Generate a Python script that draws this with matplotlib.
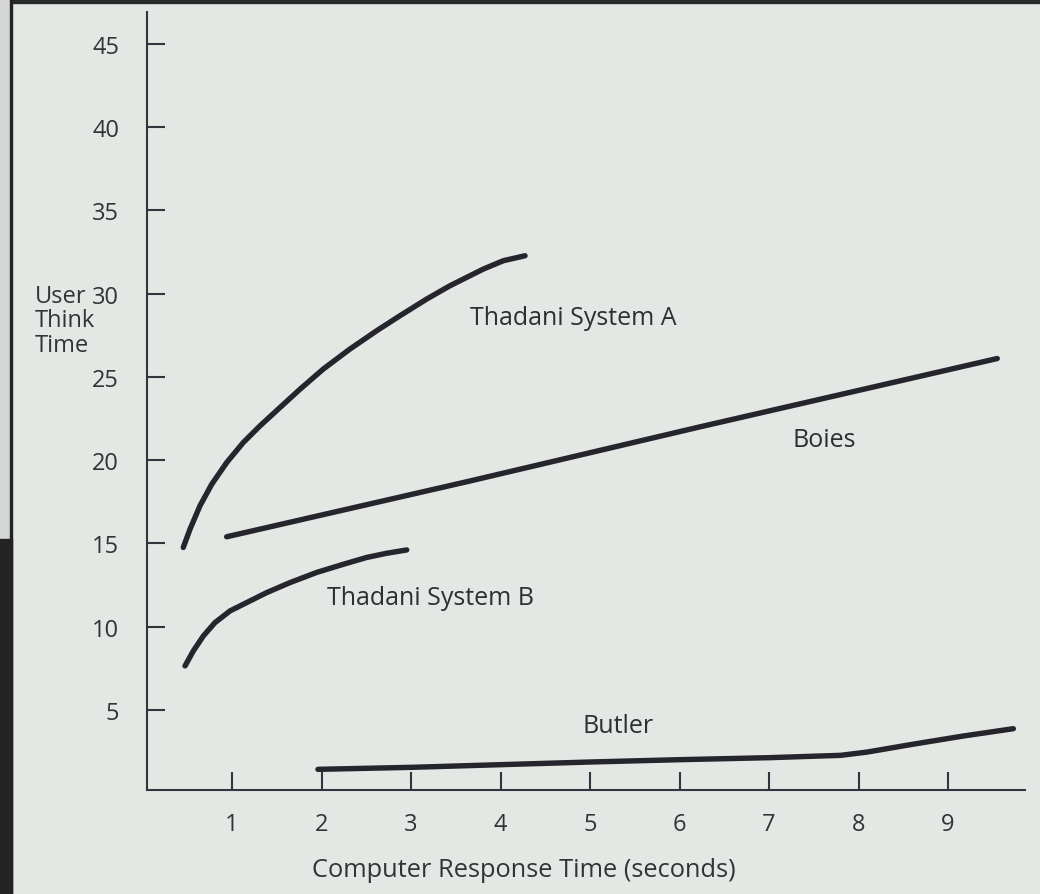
# Think time vs computer response time (book figure, redrawn)
import matplotlib
matplotlib.use('Agg')
import matplotlib.pyplot as plt
from matplotlib.patches import Rectangle

plt.rcParams['font.family'] = ['Open Sans', 'DejaVu Sans']

# curves (x = response time in s, y = user think time)
thadani_a_x = [0.455, 0.531, 0.642, 0.774, 0.941, 1.126, 1.313, 1.536, 1.760, 2.020,
               2.318, 2.617, 2.877, 3.175, 3.436, 3.659, 3.808, 4.031, 4.274]
thadani_a_y = [14.76, 15.86, 17.26, 18.56, 19.86, 21.06, 22.06, 23.16, 24.26, 25.47,
               26.67, 27.77, 28.67, 29.67, 30.47, 31.07, 31.47, 31.97, 32.27]

boies_x = [0.94, 3.62, 6.23, 9.55]
boies_y = [15.4, 18.7, 22.0, 26.1]

thadani_b_x = [0.475, 0.568, 0.680, 0.810, 0.978, 1.164, 1.388, 1.648, 1.946, 2.244,
               2.505, 2.728, 2.952]
thadani_b_y = [7.65, 8.55, 9.45, 10.25, 10.95, 11.45, 12.05, 12.65, 13.26, 13.75,
               14.16, 14.41, 14.61]

butler_x = [1.96, 3.0, 4.0, 5.0, 6.0, 7.0, 7.8, 8.1, 8.6, 9.17, 9.73]
butler_y = [1.44, 1.56, 1.72, 1.88, 2.02, 2.14, 2.28, 2.48, 2.94, 3.44, 3.88]

xticks = [1, 2, 3, 4, 5, 6, 7, 8, 9]
yticks = [5, 10, 15, 20, 25, 30, 35, 40, 45]

# label name, x, y (baseline)
labels = [('Thadani System A', 3.66, 28.2),
          ('Boies', 7.26, 20.85),
          ('Thadani System B', 2.06, 11.35),
          ('Butler', 4.92, 3.66)]

W, H = 1040, 895
paper = '#e3e8e5'
ink = '#26252d'

fig = plt.figure(figsize=(W / 100, H / 100), dpi=100, facecolor=paper)

# photo edges: dark bar on top, grey strip and dark block on the left
fig.patches.append(Rectangle((0, 1 - 4 / H), 1, 4 / H, transform=fig.transFigure,
                             color='#2a2a2a', zorder=0))
fig.patches.append(Rectangle((0, 0), 10 / W, 1, transform=fig.transFigure,
                             color='#d3d6d4', zorder=0))
fig.patches.append(Rectangle((10 / W, 0), 2 / W, 1, transform=fig.transFigure,
                             color='#222222', zorder=0))
fig.patches.append(Rectangle((0, 0), 12 / W, (H - 540) / H, transform=fig.transFigure,
                             color='#232323', zorder=0))

ax = fig.add_axes([147 / W, 1 - 791 / H, (1025 - 147) / W, (791 - 13) / H])
ax.set_facecolor('none')

for xs, ys in [(thadani_a_x, thadani_a_y), (boies_x, boies_y),
               (thadani_b_x, thadani_b_y), (butler_x, butler_y)]:
    ax.plot(xs, ys, color=ink, lw=3.9, solid_capstyle='round', solid_joinstyle='round')

for name, lx, ly in labels:
    ax.text(lx, ly, name, fontsize=18, color='#2e2e33', va='baseline', ha='left')

ax.set_xlim(0.05, 9.86)
ax.set_ylim(0.2, 46.9)
ax.set_xticks(xticks)
ax.set_yticks(yticks)
ax.spines['top'].set_visible(False)
ax.spines['right'].set_visible(False)
for s in ['left', 'bottom']:
    ax.spines[s].set_color('#34343e')
    ax.spines[s].set_linewidth(1.5)
ax.tick_params(axis='y', direction='in', length=13, width=1.5, color='#34343e',
               pad=20, labelsize=17, labelcolor='#333333')
ax.tick_params(axis='x', direction='in', length=13, width=1.5, color='#34343e',
               pad=16, labelsize=17, labelcolor='#333333')

fig.text(35 / W, 1 - 303 / H, 'User', fontsize=17, color='#333333', va='baseline')
fig.text(35 / W, 1 - 327 / H, 'Think', fontsize=17, color='#333333', va='baseline')
fig.text(35 / W, 1 - 352 / H, 'Time', fontsize=17, color='#333333', va='baseline')

fig.text(524 / W, 1 - 877 / H, 'Computer Response Time (seconds)', fontsize=18.3,
         color='#333333', va='baseline', ha='center')

plt.savefig('out.png', dpi=100, facecolor=paper)
